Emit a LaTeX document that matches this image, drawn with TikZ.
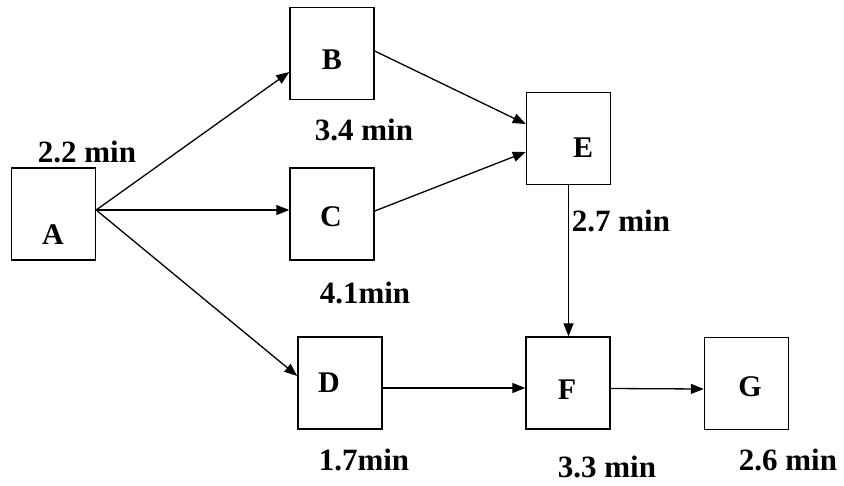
\documentclass[tikz,border=0pt]{standalone}
\usepackage{fontspec}
\setmainfont{Liberation Serif}
\usetikzlibrary{arrows.meta}

\tikzset{
  taskbox/.style={draw, line width=1.4pt, minimum width=84pt, minimum height=92pt, inner sep=0pt},
  tasklabel/.style={font=\fontsize{30}{33}\selectfont\bfseries, inner sep=0pt},
  timelabel/.style={font=\fontsize{31}{34}\selectfont\bfseries, inner sep=0pt},
  flow/.style={line width=1.3pt, -{Triangle[length=13pt,width=10pt]}}
}

\begin{document}
\begin{tikzpicture}[x=1pt, y=-1pt]
  \useasboundingbox (0,0) rectangle (844,485);

  % task boxes
  \node[taskbox] (A) at (53.5,214) {};
  \node[taskbox] (B) at (332,53.5) {};
  \node[taskbox] (C) at (332,214) {};
  \node[taskbox] (D) at (340,383) {};
  \node[taskbox] (E) at (568.5,138.5) {};
  \node[taskbox] (F) at (568,383) {};
  \node[taskbox] (G) at (746.5,383.5) {};

  % task letters
  \node[tasklabel] (lA) at (53,235) {A};
  \node[tasklabel] (lB) at (332,60) {B};
  \node[tasklabel] (lC) at (331,217) {C};
  \node[tasklabel] (lD) at (329,383) {D};
  \node[tasklabel] (lE) at (583,148) {E};
  \node[tasklabel] (lF) at (567,390) {F};
  \node[tasklabel] (lG) at (750,387) {G};

  % durations
  \node[timelabel] (tA) at (87,152) {2.2 min};
  \node[timelabel] (tB) at (364,130) {3.4 min};
  \node[timelabel] (tC) at (365,293) {4.1min};
  \node[timelabel] (tD) at (364,460) {1.7min};
  \node[timelabel] (tE) at (621,221) {2.7 min};
  \node[timelabel] (tF) at (607,467) {3.3 min};
  \node[timelabel] (tG) at (788,460) {2.6 min};

  % precedence arrows
  \coordinate (aout) at ([yshift=4pt]A.east);
  \draw[flow] (aout) -- ([yshift=-18.5pt]B.west);
  \draw[flow] (aout) -- (aout -| C.west);
  \draw[flow] (aout) -- ([yshift=7pt]D.west);
  \draw[flow] ([yshift=2.5pt]B.east) -- ([yshift=14.5pt]E.west);
  \draw[flow] ([yshift=3pt]C.east) -- ([yshift=-13.5pt]E.west);
  \draw[flow] (E.south) -- (E.south |- F.north);
  \draw[flow] ([yshift=-5pt]D.east) -- ([yshift=-5pt]F.west);
  \draw[flow] ([yshift=-5.5pt]F.east) -- ([yshift=-5.5pt]G.west);
\end{tikzpicture}
\end{document}
